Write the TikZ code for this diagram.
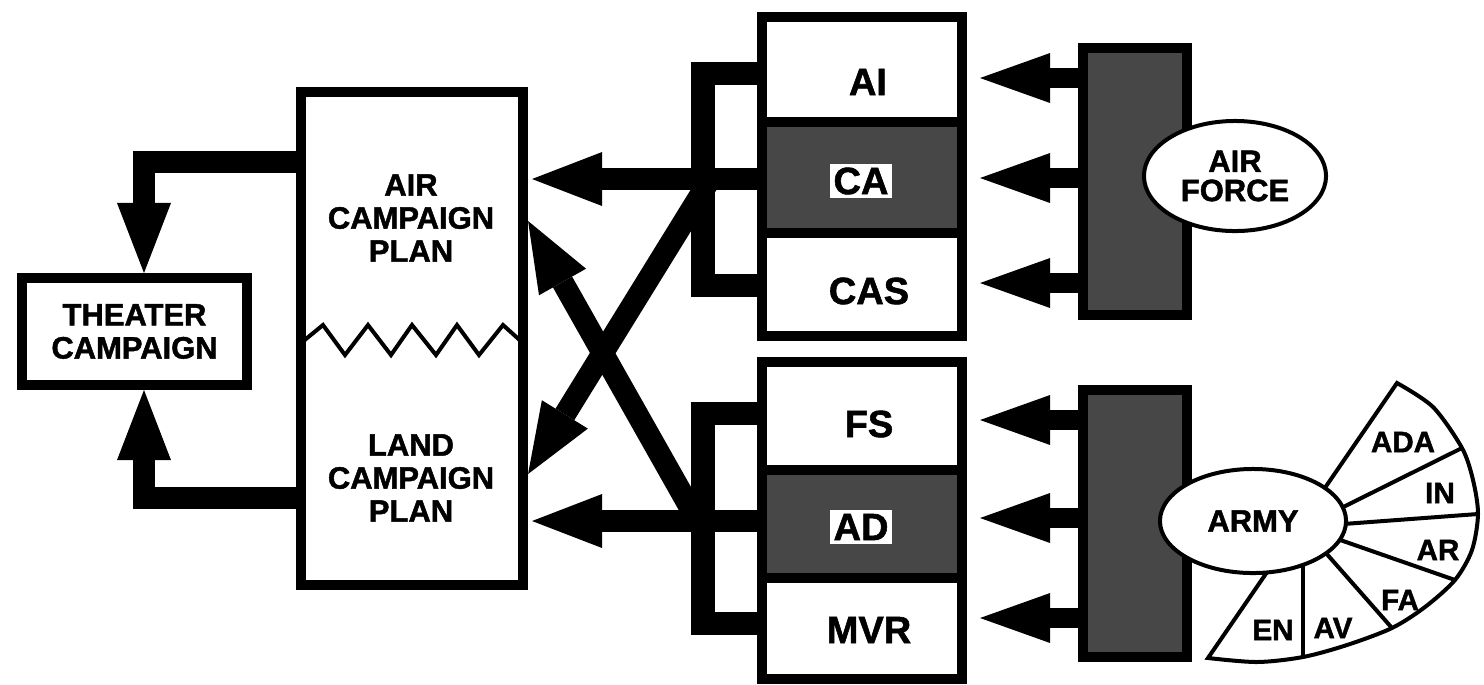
\documentclass[tikz,border=0pt]{standalone}
\usepackage{fontspec}
\setmainfont{Liberation Sans}[BoldFeatures={FakeBold=1.5}]
\usetikzlibrary{arrows.meta,shapes.geometric}
\definecolor{screen}{gray}{0.28}
\begin{document}
\begin{tikzpicture}[x=0.01cm,y=-0.01cm,
  frame/.style={draw, line width=0.1cm, inner sep=0pt},
  cell/.style={draw, line width=0.1cm, minimum width=2cm, inner sep=0pt},
  lbl/.style={font=\bfseries\fontsize{8.8}{9.4}\selectfont, align=center, inner sep=0pt},
  cellfont/.style={font=\bfseries\fontsize{10.8}{12}\selectfont, inner sep=0pt},
  tag/.style={cellfont, fill=white, inner xsep=1pt, inner ysep=1pt},
  fanfont/.style={font=\bfseries\fontsize{8.4}{9}\selectfont, inner sep=0pt},
  flow/.style={line width=0.22cm, -{Triangle[length=0.7cm,width=0.54cm,line width=0pt]}},
  feed/.style={line width=0.2cm, -{Triangle[length=0.7cm,width=0.5cm,line width=0pt]}},
  bracket/.style={line width=0.23cm},
  bar/.style={draw, fill=screen, line width=0.1cm, minimum width=1.04cm, minimum height=2.67cm, inner sep=0pt},
  oval/.style={ellipse, draw, fill=white, line width=0.04cm, inner sep=0pt, align=center},
  thinline/.style={line width=0.04cm}]

\useasboundingbox (0,0) rectangle (1484,684);

% theater and the two campaign plans
\node[frame, lbl, minimum width=2.25cm, minimum height=1.07cm] (theater) at (134.5,331.5) {THEATER\\CAMPAIGN};
\node[frame, minimum width=2.22cm, minimum height=4.93cm] (plan) at (412,338.5) {};
\node[lbl] (airplan) at (411,218) {AIR\\CAMPAIGN\\PLAN};
\node[lbl] (landplan) at (411,478) {LAND\\CAMPAIGN\\PLAN};
\draw[thinline] (301,343) -- (323,325) -- (345,355) -- (368,325) -- (391,355) -- (412,325)
  -- (436,355) -- (457,325) -- (479,355) -- (503,325) -- (523,343);

% plans feed the theater campaign
\draw[flow] (plan.west |- 0,162) -| (theater.north -| 144,0);
\draw[flow] (plan.west |- 0,498) -| (theater.south -| 144,0);

% air mission stack
\node[cell, minimum height=1.05cm] (AI) at (862,69.5) {};
\node[cell, fill=screen, minimum height=1.11cm] (CA) at (862,177.5) {};
\node[cell, minimum height=1.03cm] (CAS) at (862,284.5) {};
\node[cellfont] (AItxt) at (868,82) {AI};
\node[tag] (CAtxt) at (861,181) {CA};
\node[cellfont] (CAStxt) at (869,291) {CAS};

% land mission stack
\node[cell, minimum height=1.08cm] (FS) at (862,416) {};
\node[cell, fill=screen, minimum height=1.08cm] (AD) at (862,524) {};
\node[cell, minimum height=1.01cm] (MVR) at (862,628.5) {};
\node[cellfont] (FStxt) at (869,424) {FS};
\node[tag] (ADtxt) at (861,527) {AD};
\node[cellfont] (MVRtxt) at (869,630) {MVR};

% brackets collecting each stack
\coordinate (ubar) at (703,179);
\coordinate (lbar) at (703,521);
\draw[bracket] (AI.west |- 0,73) -| (ubar) |- (CAS.west |- 0,285);
\draw[bracket] (FS.west |- 0,413) -| (lbar) |- (MVR.west |- 0,623);

% stacks feed the plans
\draw[flow, shorten >=0.04cm] (CA.west |- 0,179) -- (plan.east |- 0,179);
\draw[flow, shorten >=0.04cm] (AD.west |- 0,521) -- (plan.east |- 0,521);
\coordinate (ucross) at (709,181);
\coordinate (lcross) at (697,520);
\draw[flow] (ucross) -- (plan.east |- 0,474);
\draw[flow] (lcross) -- (plan.east |- 0,221);

% air force
\node[bar] (afbar) at (1135,181.5) {};
\foreach \row/\yy in {AI/78, CA/178, CAS/283}
  \draw[feed, shorten >=0.13cm] (afbar.west |- 0,\yy) -- (\row.east |- 0,\yy);
\node[oval, minimum width=1.82cm, minimum height=1.10cm,
  font=\bfseries\fontsize{8.8}{8.3}\selectfont] (af) at (1235,176) {AIR\\FORCE};

% army
\node[bar] (armybar) at (1135,523.5) {};
\foreach \row/\yy in {FS/420, AD/518, MVR/618}
  \draw[feed, shorten >=0.13cm] (armybar.west |- 0,\yy) -- (\row.east |- 0,\yy);

% branch fan behind the army oval
\coordinate (fanc) at (1303,527);
\draw[thinline, fill=white] plot[smooth] coordinates {(1397,383) (1433,407) (1462,448) (1473,480)
  (1478,514) (1472,550) (1455,580) (1425,607) (1392,628) (1347,645) (1303,657) (1257,662) (1208,658)}
  -- cycle;
\foreach \p in {(1462,448),(1478,514),(1455,580),(1392,628),(1303,657)}
  \draw[thinline] (fanc) -- \p;
\node[oval, minimum width=1.86cm, minimum height=1.04cm,
  font=\bfseries\fontsize{8.8}{9.4}\selectfont] (army) at (1253,521) {ARMY};
\node[fanfont] (ada) at (1403,442) {ADA};
\node[fanfont] (in) at (1440,493) {IN};
\node[fanfont] (ar) at (1438,550) {AR};
\node[fanfont] (fa) at (1400,600) {FA};
\node[fanfont] (av) at (1333,628) {AV};
\node[fanfont] (en) at (1273,630) {EN};
\end{tikzpicture}
\end{document}
